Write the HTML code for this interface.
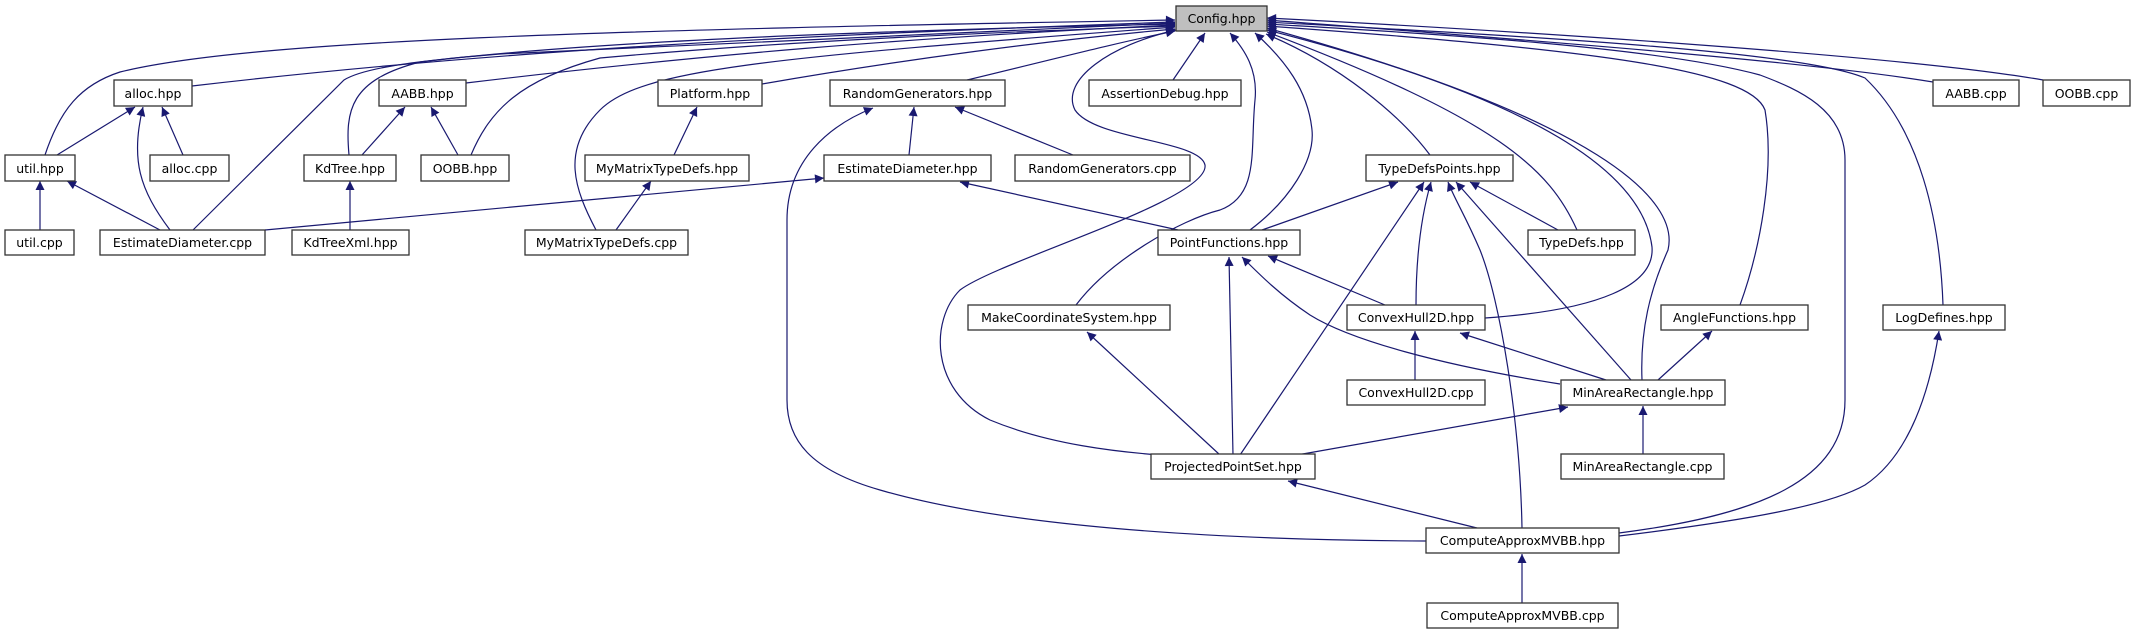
<!DOCTYPE html>
<html><head><meta charset="utf-8"><style>
html,body{margin:0;padding:0;background:#fff;}
svg{display:block;}
text{font-family:"DejaVu Sans","Liberation Sans",sans-serif;font-size:12.5px;fill:#000;}
.e{fill:none;stroke:#191970;stroke-width:1.2;}
.n{fill:#fff;stroke:#333;stroke-width:1.3;}
</style></head><body>
<svg width="2135" height="635" viewBox="0 0 2135 635" xmlns="http://www.w3.org/2000/svg">
<defs>
<marker id="a" viewBox="0 0 10 10" refX="10" refY="5" markerWidth="11" markerHeight="9" markerUnits="userSpaceOnUse" orient="auto">
<path d="M0,0 L10,5 L0,10 z" fill="#191970"/></marker>
</defs>
<g class="e" marker-end="url(#a)">
<!-- to Config -->
<path d="M45,155 C60,110 80,85 120,72 C250,40 600,30 1175,20"/>
<path d="M192,86 C500,50 800,35 1175,22"/>
<path d="M193,230 L344,80 C360,70 400,62 500,54 L1175,23"/>
<path d="M349,155 C345,110 350,80 420,62 C600,40 900,30 1175,24"/>
<path d="M466,83 C700,55 900,38 1175,25"/>
<path d="M471,155 C490,110 520,80 600,58 C800,40 1000,32 1175,26"/>
<path d="M596,230 C575,190 560,150 600,110 C640,70 760,58 1175,27"/>
<path d="M762,84 C900,60 1050,40 1175,29"/>
<path d="M967,80 C1050,60 1120,42 1175,31"/>
<path d="M1160,455 C1120,452 1050,445 990,420 C930,390 930,320 960,290 C1000,260 1210,200 1205,165 C1200,140 1095,140 1075,110 C1060,80 1110,45 1176,30"/>
<path d="M1076,305 C1110,260 1180,220 1220,210 C1260,195 1250,150 1255,100 C1258,70 1245,50 1230,33"/>
<path d="M1250,230 C1290,200 1315,160 1312,130 C1308,90 1285,60 1255,33"/>
<path d="M1173,80 L1205,33"/>
<path d="M1430,155 C1400,115 1340,65 1266,34"/>
<path d="M1577,230 C1550,170 1500,120 1267,32"/>
<path d="M1485,318 C1600,310 1655,285 1652,247 C1645,190 1580,110 1267,30"/>
<path d="M1642,380 C1640,330 1650,290 1668,250 C1680,200 1600,120 1267,28"/>
<path d="M1740,305 C1760,250 1775,170 1765,110 C1750,70 1600,50 1267,26"/>
<path d="M1619,533 C1760,515 1845,480 1845,400 L1845,160 C1845,110 1800,90 1760,75 C1650,45 1400,32 1267,24"/>
<path d="M1943,305 C1940,220 1920,130 1865,78 C1800,50 1500,35 1267,22"/>
<path d="M1933,82 C1800,60 1500,38 1267,20"/>
<path d="M2043,80 C1900,55 1500,30 1267,18"/>
<!-- others -->
<path d="M57,155 L135,107"/>
<path d="M170,230 C140,190 130,160 143,107"/>
<path d="M183,155 L162,107"/>
<path d="M40,230 L40,181"/>
<path d="M160,230 L67,181"/>
<path d="M362,155 L405,107"/>
<path d="M458,155 L431,107"/>
<path d="M350,230 L350,181"/>
<path d="M674,155 L697,107"/>
<path d="M616,230 L651,181"/>
<path d="M909,155 L914,107"/>
<path d="M1073,155 L955,107"/>
<path d="M1426,541 C1200,540 1000,525 880,490 C810,470 787,440 787,400 L787,220 C787,160 830,125 873,108"/>
<path d="M265,230 L824,178"/>
<path d="M1178,230 L960,182"/>
<path d="M1262,230 L1398,182"/>
<path d="M1416,305 C1416,260 1420,220 1431,182"/>
<path d="M1240,455 L1424,182"/>
<path d="M1522,528 C1520,420 1500,300 1480,250 C1465,215 1455,200 1448,182"/>
<path d="M1631,380 L1456,182"/>
<path d="M1558,230 L1470,182"/>
<path d="M1233,455 L1229,257"/>
<path d="M1385,305 L1268,256"/>
<path d="M1560,384 C1440,365 1350,340 1310,315 C1280,295 1260,275 1242,257"/>
<path d="M1220,455 L1087,332"/>
<path d="M1415,380 L1415,331"/>
<path d="M1606,380 L1460,333"/>
<path d="M1658,380 L1712,331"/>
<path d="M1297,455 L1568,407"/>
<path d="M1643,455 L1643,406"/>
<path d="M1477,528 L1288,481"/>
<path d="M1522,603 L1522,554"/>
<path d="M1619,536 C1750,520 1830,505 1865,485 C1910,455 1930,390 1939,331"/>
</g>
<g>
<rect class="n" x="1176" y="6" width="91" height="25" style="fill:#bfbfbf"/><text x="1221.5" y="23" text-anchor="middle">Config.hpp</text>
<rect class="n" x="114" y="80" width="78" height="26"/><text x="153" y="98" text-anchor="middle">alloc.hpp</text>
<rect class="n" x="379" y="80" width="87" height="26"/><text x="422.5" y="98" text-anchor="middle">AABB.hpp</text>
<rect class="n" x="658" y="80" width="104" height="26"/><text x="710" y="98" text-anchor="middle">Platform.hpp</text>
<rect class="n" x="830" y="80" width="175" height="26"/><text x="917.5" y="98" text-anchor="middle">RandomGenerators.hpp</text>
<rect class="n" x="1089" y="80" width="152" height="26"/><text x="1165" y="98" text-anchor="middle">AssertionDebug.hpp</text>
<rect class="n" x="1933" y="80" width="86" height="26"/><text x="1976" y="98" text-anchor="middle">AABB.cpp</text>
<rect class="n" x="2043" y="80" width="87" height="26"/><text x="2086.5" y="98" text-anchor="middle">OOBB.cpp</text>
<rect class="n" x="5" y="155" width="70" height="26"/><text x="40" y="173" text-anchor="middle">util.hpp</text>
<rect class="n" x="150" y="155" width="79" height="26"/><text x="189.5" y="173" text-anchor="middle">alloc.cpp</text>
<rect class="n" x="304" y="155" width="92" height="26"/><text x="350" y="173" text-anchor="middle">KdTree.hpp</text>
<rect class="n" x="421" y="155" width="88" height="26"/><text x="465" y="173" text-anchor="middle">OOBB.hpp</text>
<rect class="n" x="585" y="155" width="164" height="26"/><text x="667" y="173" text-anchor="middle">MyMatrixTypeDefs.hpp</text>
<rect class="n" x="824" y="155" width="167" height="26"/><text x="907.5" y="173" text-anchor="middle">EstimateDiameter.hpp</text>
<rect class="n" x="1015" y="155" width="175" height="26"/><text x="1102.5" y="173" text-anchor="middle">RandomGenerators.cpp</text>
<rect class="n" x="1366" y="155" width="147" height="26"/><text x="1439.5" y="173" text-anchor="middle">TypeDefsPoints.hpp</text>
<rect class="n" x="5" y="230" width="69" height="25"/><text x="39.5" y="247" text-anchor="middle">util.cpp</text>
<rect class="n" x="100" y="230" width="165" height="25"/><text x="182.5" y="247" text-anchor="middle">EstimateDiameter.cpp</text>
<rect class="n" x="292" y="230" width="117" height="25"/><text x="350.5" y="247" text-anchor="middle">KdTreeXml.hpp</text>
<rect class="n" x="525" y="230" width="163" height="25"/><text x="606.5" y="247" text-anchor="middle">MyMatrixTypeDefs.cpp</text>
<rect class="n" x="1158" y="230" width="142" height="25"/><text x="1229" y="247" text-anchor="middle">PointFunctions.hpp</text>
<rect class="n" x="1528" y="230" width="107" height="25"/><text x="1581.5" y="247" text-anchor="middle">TypeDefs.hpp</text>
<rect class="n" x="968" y="305" width="202" height="25"/><text x="1069" y="322" text-anchor="middle">MakeCoordinateSystem.hpp</text>
<rect class="n" x="1347" y="305" width="138" height="25"/><text x="1416" y="322" text-anchor="middle">ConvexHull2D.hpp</text>
<rect class="n" x="1661" y="305" width="147" height="25"/><text x="1734.5" y="322" text-anchor="middle">AngleFunctions.hpp</text>
<rect class="n" x="1883" y="305" width="122" height="25"/><text x="1944" y="322" text-anchor="middle">LogDefines.hpp</text>
<rect class="n" x="1347" y="380" width="138" height="25"/><text x="1416" y="397" text-anchor="middle">ConvexHull2D.cpp</text>
<rect class="n" x="1561" y="380" width="164" height="25"/><text x="1643" y="397" text-anchor="middle">MinAreaRectangle.hpp</text>
<rect class="n" x="1151" y="454" width="164" height="25"/><text x="1233" y="471" text-anchor="middle">ProjectedPointSet.hpp</text>
<rect class="n" x="1561" y="454" width="163" height="25"/><text x="1642.5" y="471" text-anchor="middle">MinAreaRectangle.cpp</text>
<rect class="n" x="1426" y="528" width="193" height="25"/><text x="1522.5" y="545" text-anchor="middle">ComputeApproxMVBB.hpp</text>
<rect class="n" x="1427" y="603" width="191" height="25"/><text x="1522.5" y="620" text-anchor="middle">ComputeApproxMVBB.cpp</text>
</g>
</svg>
</body></html>
